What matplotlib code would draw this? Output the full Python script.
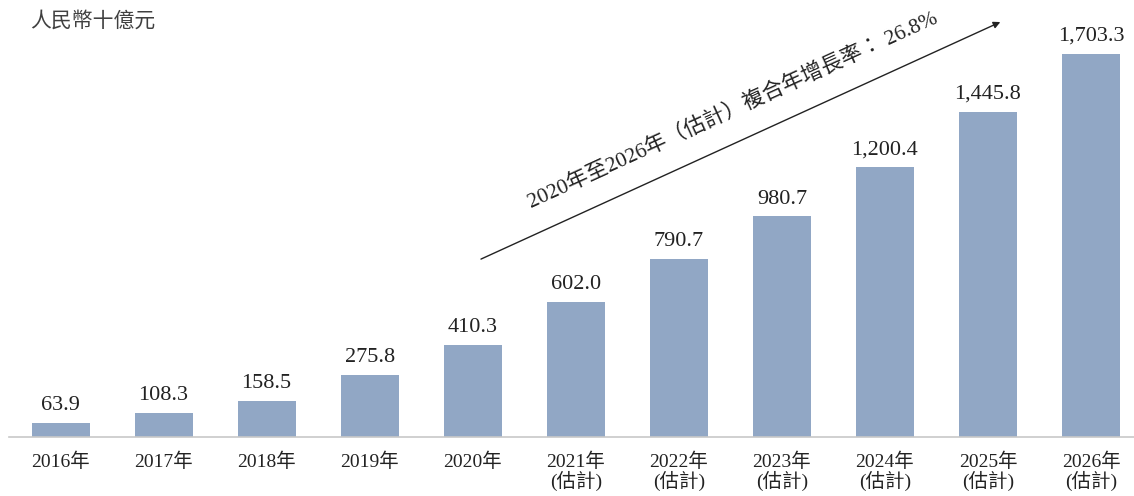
import matplotlib
matplotlib.use('Agg')
import matplotlib.pyplot as plt
import numpy as np

plt.rcParams['font.family'] = ['Liberation Serif', 'Noto Sans CJK TC']

# %% data
years = ['2016年', '2017年', '2018年', '2019年', '2020年',
         '2021年\n(估計)', '2022年\n(估計)', '2023年\n(估計)',
         '2024年\n(估計)', '2025年\n(估計)', '2026年\n(估計)']
values = [63.9, 108.3, 158.5, 275.8, 410.3, 602.0, 790.7, 980.7,
          1200.4, 1445.8, 1703.3]
unit_label = '人民幣十億元'
cagr_label = '2020年至2026年（估計）複合年增長率： 26.8%'

bar_color = '#91a7c5'
text_color = '#222222'

fig = plt.figure(figsize=(11.34, 4.96), dpi=100)
ax = fig.add_axes([9 / 1134, 59 / 496, 1125 / 1134, 437 / 496])

x = np.arange(len(values))
ax.bar(x, values, width=0.563, color=bar_color)

for xi, v in zip(x, values):
    ax.text(xi, v + 35, f'{v:,.1f}', ha='center', va='bottom',
            fontsize=16, color=text_color)

ax.set_xlim(-0.5, 10.417)
ax.set_ylim(0, 1943)
ax.set_xticks(x)
ax.set_xticklabels(years, fontsize=14, color=text_color, linespacing=1.0)
ax.tick_params(axis='x', length=0, pad=11)
ax.set_yticks([])
for s in ['top', 'right', 'left']:
    ax.spines[s].set_visible(False)
ax.spines['bottom'].set_color('#c8c8c8')
ax.spines['bottom'].set_linewidth(1.2)

# CAGR arrow
ax.annotate('', xy=(9.12, 1845), xytext=(4.08, 791),
            arrowprops=dict(arrowstyle='-|>', color='#222222', lw=1.0,
                            mutation_scale=10, shrinkA=0, shrinkB=0))
ax.text(6.52, 1450, cagr_label, rotation=24.5, rotation_mode='anchor',
        ha='center', va='center', fontsize=15.5, color=text_color)

fig.text(30 / 1134, 1 - 22 / 496, unit_label, ha='left', va='center',
         fontsize=15, color='#404040')

fig.savefig('out.png', dpi=100)
